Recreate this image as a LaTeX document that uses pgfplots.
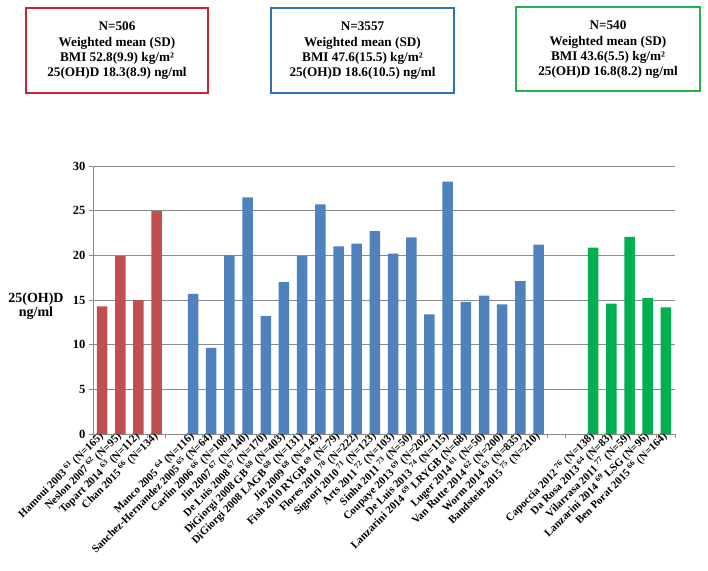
\documentclass[border=0pt]{standalone}
\usepackage{fontspec}
\setmainfont{Liberation Serif}
\usepackage{pgfplots}
\pgfplotsset{compat=1.18}

\definecolor{barred}{HTML}{C0504D}
\definecolor{barblue}{HTML}{4F81BD}
\definecolor{bargreen}{HTML}{00B050}
\definecolor{boxred}{HTML}{C3282E}
\definecolor{boxblue}{HTML}{2E72B8}
\definecolor{boxgreen}{HTML}{22B14C}
\definecolor{gridgray}{HTML}{8C8C8C}

\newcommand{\sref}[1]{\textsuperscript{#1}}

\begin{document}
\begin{tikzpicture}
\path[use as bounding box] (0,0) rectangle (708pt,-570pt);

% summary boxes
\tikzset{sumbox/.style={align=center, font=\fontsize{13.2}{15.3}\selectfont\bfseries}}
\draw[boxred, line width=2.6pt] (26pt,-8pt) rectangle (208pt,-93pt);
\node[sumbox] at (117pt,-51pt) {N=506\\Weighted mean (SD)\\BMI 52.8(9.9) kg/m²\\25(OH)D 18.3(8.9) ng/ml};
\draw[boxblue, line width=2.6pt] (271pt,-8pt) rectangle (454pt,-93pt);
\node[sumbox] at (362.5pt,-51pt) {N=3557\\Weighted mean (SD)\\BMI 47.6(15.5) kg/m²\\25(OH)D 18.6(10.5) ng/ml};
\draw[boxgreen, line width=2.6pt] (516pt,-7pt) rectangle (700pt,-91pt);
\node[sumbox] at (608pt,-50pt) {N=540\\Weighted mean (SD)\\BMI 43.6(5.5) kg/m²\\25(OH)D 16.8(8.2) ng/ml};

\begin{axis}[
    at={(93pt,-434pt)}, anchor=south west,
    scale only axis,
    width=582pt, height=268pt,
    xmin=-0.5, xmax=31.5,
    ymin=0, ymax=30,
    ytick={0,5,...,30},
    axis x line*=bottom,
    axis y line*=left,
    axis line style={gridgray, line width=0.8pt},
    tick style={gridgray, line width=0.8pt},
    tick align=outside,
    major tick length=4pt,
    ymajorgrids,
    grid style={gridgray, line width=0.8pt},
    /pgf/number format/assume math mode=true,
    yticklabel style={font=\fontsize{12.5}{14}\selectfont\bfseries},
    ylabel={25(OH)D\\ng/ml},
    every axis y label/.style={at={(rel axis cs:0,0.5)}, anchor=center,
        xshift=-57pt, yshift=-6pt, align=center,
        font=\fontsize{14}{14.5}\selectfont\bfseries},
    xtick={-0.5,0.5,...,31.5},
    xticklabels={},
    extra x ticks={0,...,31},
    extra x tick style={major tick length=0pt, grid=none,
        xticklabel style={rotate=45, anchor=east, inner sep=1pt,
        font=\fontsize{11}{12}\selectfont\bfseries}},
    extra x tick labels={
        {Hamoui 2003 \sref{61} (N=165)},
        {Neslon 2007 \sref{62} (N=95)},
        {Topart 2014 \sref{63} (N=112)},
        {Chan 2015 \sref{66} (N=134)},
        {},
        {Manco 2005 \sref{64} (N=116)},
        {Sanchez-Hernandez 2005 \sref{65} (N=64)},
        {Carlin 2006 \sref{66} (N=108)},
        {Jin 2007 \sref{67} (N=140)},
        {De Luis 2008 \sref{67} (N=170)},
        {DiGiorgi 2008 GB \sref{68} (N=403)},
        {DiGiorgi 2008 LAGB \sref{68} (N=131)},
        {Jin 2009 \sref{68} (N=145)},
        {Fish 2010 RYGB \sref{69} (N=79)},
        {Flores 2010 \sref{70} (N=222)},
        {Signori 2010 \sref{71} (N=123)},
        {Arts 2011 \sref{72} (N=103)},
        {Sinha 2011 \sref{73} (N=50)},
        {Coupaye 2013 \sref{69} (N=202)},
        {De Luis 2013 \sref{74} (N=115)},
        {Lanzarini 2014 \sref{69} LRYGB (N=68)},
        {Luger 2014 \sref{61} (N=50)},
        {Van Rutte 2014 \sref{62} (N=200)},
        {Worm 2014 \sref{63} (N=835)},
        {Bandstein 2015 \sref{75} (N=210)},
        {},
        {},
        {Capoccia 2012 \sref{76} (N=138)},
        {Da Rosa 2013 \sref{64} (N=83)},
        {Vilarrasa 2011 \sref{77} (N=59)},
        {Lanzarini 2014 \sref{69} LSG (N=96)},
        {Ben Porat 2015 \sref{66} (N=164)}
    },
    clip=false,
]
% open surgery group
\addplot[ybar, bar shift=0pt, bar width=0.58, fill=barred, draw=none]
coordinates {(0,14.3) (1,19.9) (2,15.0) (3,24.95)};
% bypass / banding group
\addplot[ybar, bar shift=0pt, bar width=0.58, fill=barblue, draw=none]
coordinates {
    (5,15.7) (6,9.65) (7,20.0) (8,26.5) (9,13.2)
    (10,17.0) (11,19.9) (12,25.7) (13,21.0) (14,21.3)
    (15,22.7) (16,20.2) (17,22.0) (18,13.4) (19,28.25)
    (20,14.8) (21,15.5) (22,14.5) (23,17.1) (24,21.2)
};
% sleeve group
\addplot[ybar, bar shift=0pt, bar width=0.58, fill=bargreen, draw=none]
coordinates {(27,20.87) (28,14.6) (29,22.07) (30,15.2) (31,14.18)};
\end{axis}
\end{tikzpicture}
\end{document}
